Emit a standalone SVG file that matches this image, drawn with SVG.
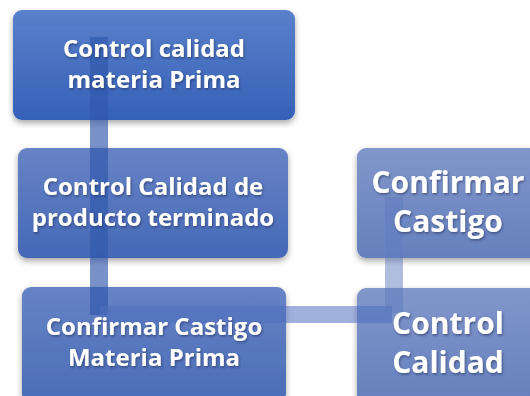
<svg xmlns="http://www.w3.org/2000/svg" width="530" height="396" viewBox="0 0 530 396">
<defs>
<linearGradient id="g1" x1="0" y1="0" x2="0" y2="1"><stop offset="0" stop-color="#5a80ca"/><stop offset="1" stop-color="#3561b8"/></linearGradient>
<linearGradient id="g2" x1="0" y1="0" x2="0" y2="1"><stop offset="0" stop-color="#6783c6"/><stop offset="1" stop-color="#4568b6"/></linearGradient>
<linearGradient id="g3" x1="0" y1="0" x2="0" y2="1"><stop offset="0" stop-color="#6683c6"/><stop offset="1" stop-color="#4a6cb6"/></linearGradient>
<linearGradient id="g4" x1="0" y1="0" x2="0" y2="1"><stop offset="0" stop-color="#8197cb"/><stop offset="1" stop-color="#6580bd"/></linearGradient>
<filter id="sh" x="-10%" y="-10%" width="120%" height="130%"><feDropShadow dx="0" dy="3" stdDeviation="3" flood-color="#000" flood-opacity="0.35"/></filter>
<filter id="ts" x="-5%" y="-20%" width="110%" height="140%"><feDropShadow dx="1" dy="1.5" stdDeviation="1" flood-color="#1a2a50" flood-opacity="0.55"/></filter>
<style>
text{font-family:"Open Sans","Liberation Sans",sans-serif;font-weight:bold;fill:#fff;text-anchor:middle;filter:url(#ts)}
.s{font-size:24px}
.b{font-size:30px}
</style>
</defs>
<g id="n1" filter="url(#sh)"><rect x="13" y="10" width="282" height="110" rx="9" fill="url(#g1)"/></g>
<g id="n2" filter="url(#sh)"><rect x="18" y="148" width="270" height="110" rx="9" fill="url(#g2)"/></g>
<g id="n3" filter="url(#sh)"><rect x="22" y="287" width="264" height="116" rx="9" fill="url(#g3)"/></g>
<g id="n4" filter="url(#sh)"><rect x="357" y="148" width="184" height="110" rx="9" fill="url(#g4)"/></g>
<g id="n5" filter="url(#sh)"><rect x="357" y="288" width="184" height="116" rx="9" fill="url(#g4)"/></g>
<g id="connectors">
<rect x="90" y="37" width="18" height="278" fill="#2f58ac" opacity="0.65"/>
<rect x="100" y="306" width="292" height="17" fill="#4e6fbd" opacity="0.55"/>
<rect x="385" y="197" width="18" height="116" fill="#5f7bc0" opacity="0.5"/>
</g>
<g id="labels">
<text class="s" x="154" y="57">Control calidad</text>
<text class="s" x="154" y="88">materia Prima</text>
<text class="s" x="153" y="195">Control Calidad de</text>
<text class="s" x="153" y="226">producto terminado</text>
<text class="s" x="154" y="335">Confirmar Castigo</text>
<text class="s" x="154" y="366">Materia Prima</text>
<text class="b" x="448" y="193">Confirmar</text>
<text class="b" x="448" y="232">Castigo</text>
<text class="b" x="448" y="334">Control</text>
<text class="b" x="448" y="373">Calidad</text>
</g>
</svg>
